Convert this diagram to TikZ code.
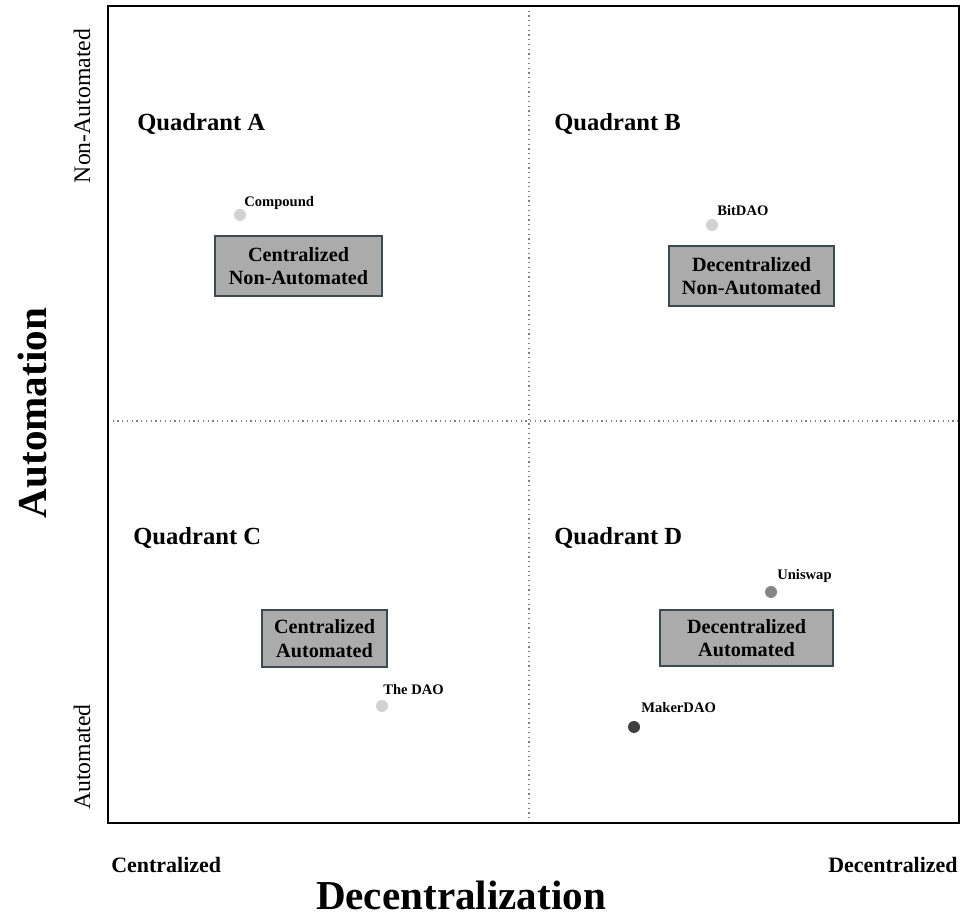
\documentclass[tikz,border=0pt]{standalone}
\usepackage{fontspec}
\setmainfont{Liberation Serif}
\usetikzlibrary{positioning,calc}
\usepackage{xcolor}

\definecolor{boxfill}{HTML}{ABABAB}
\definecolor{boxline}{HTML}{3C4A52}
\definecolor{dotlight}{HTML}{D2D2D2}
\definecolor{dotmid}{HTML}{858585}
\definecolor{dotdark}{HTML}{404040}

\begin{document}
\begin{tikzpicture}[x=0.02cm, y=-0.02cm]

\tikzset{
    quad/.style={font=\fontsize{14}{16}\selectfont\bfseries, anchor=west, inner sep=0pt},
    catbox/.style={draw=boxline, line width=1.1pt, fill=boxfill, align=center,
        font=\fontsize{11.5}{13.5}\selectfont\bfseries, inner sep=0pt},
    dao/.style={circle, inner sep=0pt, minimum size=0.24cm},
    daolabel/.style={font=\fontsize{8.3}{9}\selectfont\bfseries, anchor=west, inner sep=0pt},
    axisend/.style={font=\fontsize{13.5}{15}\selectfont, inner sep=0pt},
    axisname/.style={font=\fontsize{23.4}{26}\selectfont\bfseries, inner sep=0pt}
}

% fixed page size, same as the reference
\useasboundingbox (0,0) rectangle (961,918);

% frame and quadrant dividers
\draw[gray, dotted, line width=0.7pt] (529,6) -- (529,823);
\draw[gray, dotted, line width=0.7pt] (108,421) -- (959,421);
\draw[line width=1.5pt] (108,6) rectangle (959,823);

% quadrant titles
\foreach \q/\qx/\qy in {A/137/124, B/554/124, C/133/538, D/554/538} {
    \node[quad] (q\q) at (\qx,\qy) {Quadrant \q};
}

% category boxes
\foreach \q/\cx/\cy/\w/\h/\txt in {
    A/298.5/266/167/60/{Centralized\\Non-Automated},
    B/751.5/276/165/60/{Decentralized\\Non-Automated},
    C/324.5/638.5/125/57/{Centralized\\Automated},
    D/746.5/638/173/56/{Decentralized\\Automated}} {
    \node[catbox, minimum width={0.02cm*\w}, minimum height={0.02cm*\h}] (box\q) at (\cx,\cy) {\txt};
}

% DAOs: dot and name
\foreach \n/\dx/\dy/\c/\lx/\ly/\lbl in {
    compound/240/215/dotlight/244/203/Compound,
    bitdao/712/225/dotlight/717/211/BitDAO,
    uniswap/771/592/dotmid/777/576/Uniswap,
    thedao/382/706/dotlight/383/690/The DAO,
    makerdao/634/727/dotdark/641/708/MakerDAO} {
    \node[dao, fill=\c] (\n) at (\dx,\dy) {};
    \node[daolabel] (\n-name) at (\lx,\ly) {\lbl};
}

% axis ends
\node[axisend, rotate=90] (nonauto) at (82,106) {Non-Automated};
\node[axisend, rotate=90] (auto) at (82,757) {Automated};
\node[axisend, font=\fontsize{12.5}{14}\selectfont\bfseries, anchor=west] (central) at (111,865) {Centralized};
\node[axisend, font=\fontsize{12.5}{14}\selectfont\bfseries, anchor=east] (decentral) at (958,865) {Decentralized};

% axis names
\node[axisname, rotate=90] (automation) at (32,413) {Automation};
\node[axisname, anchor=base] (decentralization) at (461,909) {Decentralization};
\end{tikzpicture}
\end{document}
